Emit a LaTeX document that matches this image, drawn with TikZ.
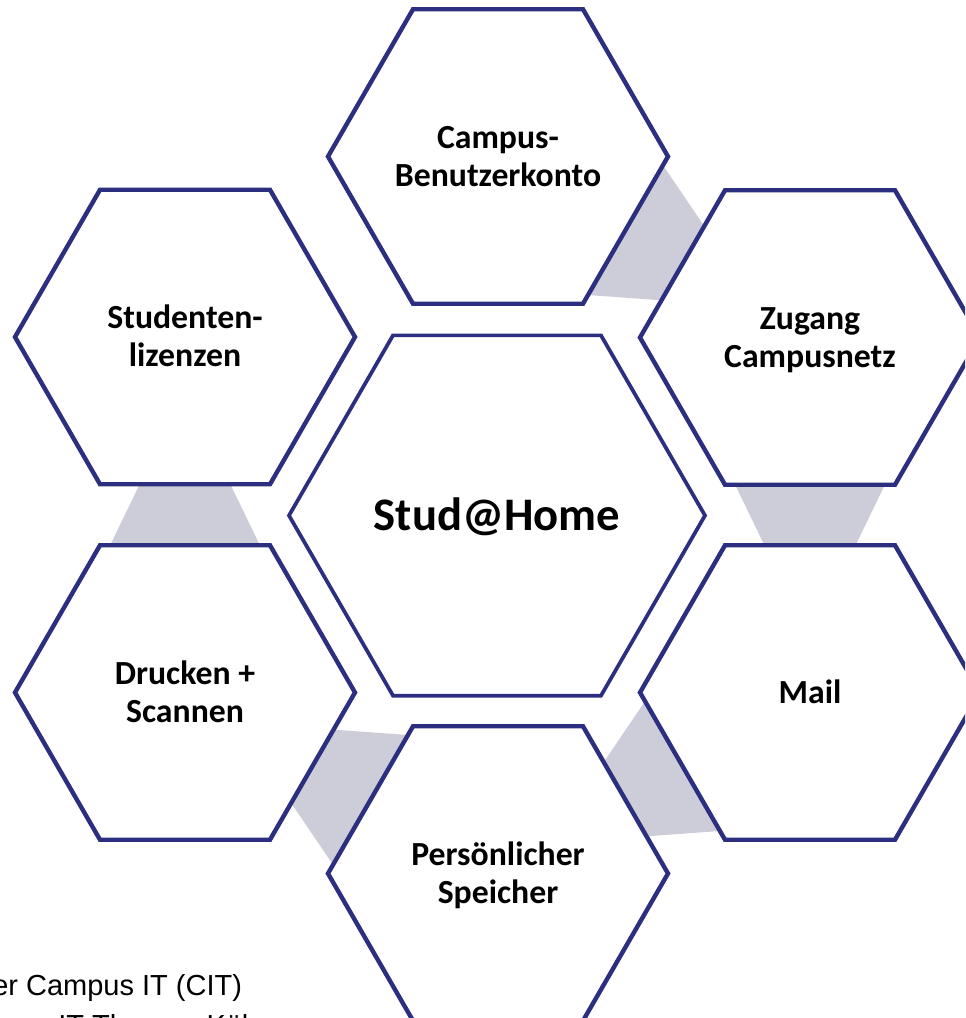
\documentclass[tikz,border=0pt]{standalone}
\usepackage{fontspec}
\setmainfont{Carlito}
\newfontfamily\footfont{Liberation Sans}
\usetikzlibrary{calc}
\definecolor{hexblue}{RGB}{44,46,127}
\definecolor{conngray}{RGB}{205,205,218}
\newcommand\drawhex[3]{% style, center, radius
  \filldraw[#1,shift={(#2)}] (0:#3) -- (60:#3) -- (120:#3) -- (180:#3) -- (240:#3) -- (300:#3) -- cycle;}
\newcommand\linkshape[2]{% source, rotation
  \fill[conn,shift={(#1)},rotate=#2] (127,-84.7) -- (229,-35.3) -- (229,35.3) -- (127,84.7) -- cycle;}
\newcommand\twolines[4]{% name, center, line1, line2
  \node[lbl,anchor=base] (#1a) at ($(#2)+(0,-8.15)$) {#3};
  \node[lbl,anchor=base] (#1b) at ($(#2)+(0,29.85)$) {#4};}
\begin{document}
\begin{tikzpicture}[x=0.75pt,y=-0.75pt,
  outerhex/.style={draw=hexblue,line width=3.3pt,fill=white},
  innerhex/.style={draw=hexblue,line width=2.8pt,fill=white},
  conn/.style={fill=conngray},
  lbl/.style={font=\fontsize{25.3}{28.5}\selectfont\bfseries,inner sep=0pt},
  biglbl/.style={font=\fontsize{35}{42}\selectfont\bfseries,inner sep=0pt},
  foot/.style={font=\footfont\fontsize{21.75}{30}\selectfont,inner sep=0pt,anchor=base west}]
\useasboundingbox (0,0) rectangle (965,1018);
\clip (0,0) rectangle (965,1018);
\fill[white] (0,0) rectangle (965,1018);
% hexagon centres
\coordinate (top) at (498,156.5);
\coordinate (zug) at (810,337.5);
\coordinate (mail) at (810,692.5);
\coordinate (pers) at (498,873.5);
\coordinate (druck) at (185,692.5);
\coordinate (stud) at (185,337);
\coordinate (mid) at (497,515.5);
% connectors (behind the hexagons)
\linkshape{top}{-30}
\linkshape{zug}{-90}
\linkshape{mail}{-150}
\linkshape{pers}{150}
\linkshape{druck}{90}
% hexagons
\drawhex{outerhex}{top}{170}
\drawhex{outerhex}{zug}{170}
\drawhex{outerhex}{mail}{170}
\drawhex{outerhex}{pers}{170}
\drawhex{outerhex}{druck}{170}
\drawhex{outerhex}{stud}{170}
\drawhex{innerhex}{mid}{208}
% labels
\twolines{ltop}{top}{Campus-}{Benutzerkonto}
\twolines{lzug}{zug}{Zugang}{Campusnetz}
\twolines{lstud}{stud}{Studenten-}{lizenzen}
\twolines{ldruck}{druck}{Drucken +}{Scannen}
\twolines{lpers}{pers}{Persönlicher}{Speicher}
\node[lbl,anchor=base] (lmail) at ($(mail)+(0,10.85)$) {Mail};
\node[biglbl,anchor=base] (lmid) at ($(mid)+(0,14.5)$) {Stud@Home};
% footer text (cut off by the picture edge)
\node[foot] (foot1) at (-8,995) {er Campus IT (CIT)};
\node[foot] (foot2) at (58,1035) {IT-Themen Köln};
\end{tikzpicture}
\end{document}
